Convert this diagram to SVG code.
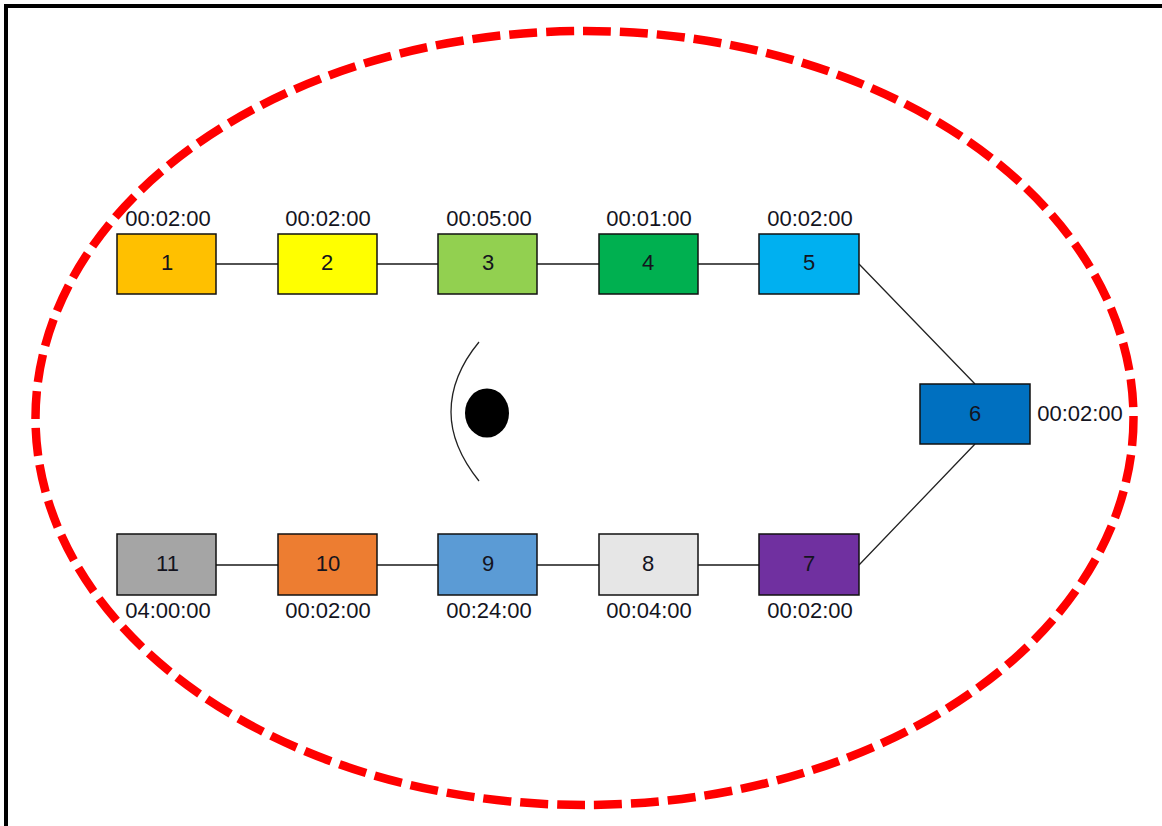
<svg xmlns="http://www.w3.org/2000/svg" width="1162" height="826" viewBox="0 0 1162 826">
<style>
.n{stroke:#111;stroke-width:1.5}
.c{stroke:#1a1a1a;stroke-width:1.5;fill:none}
.d{stroke:#222;stroke-width:1.3;fill:none}
text{font-family:"Liberation Sans",Arial,sans-serif;font-size:22px;fill:#14141e;text-anchor:middle}
</style>
<rect width="1162" height="826" fill="#fff"/>
<path d="M6 826V6H1162" fill="none" stroke="#000" stroke-width="4"/>
<ellipse id="boundary" cx="584.500" cy="418" rx="549" ry="387" fill="none" stroke="#f00" stroke-width="8.500" stroke-dasharray="28 9"/>
<g id="connectors">
<path class="c" d="M216 264H278M377 264H438M537 264H599M698 264H759M759 565H698M599 565H537M438 565H377M278 565H216"/>
<path class="d" d="M859 264L975 384M975 444L859 565M479 342Q451 376 451 412Q451 446 479 481"/>
</g>
<ellipse id="dot" cx="487" cy="413" rx="22" ry="24.500" fill="#000"/>
<g id="n1"><rect class="n" x="117" y="234" width="99" height="60" fill="#ffc000"/><text x="167" y="270">1</text><text x="168" y="226">00:02:00</text></g>
<g id="n2"><rect class="n" x="278" y="234" width="99" height="60" fill="#ff0"/><text x="327" y="270">2</text><text x="328" y="226">00:02:00</text></g>
<g id="n3"><rect class="n" x="438" y="234" width="99" height="60" fill="#92d050"/><text x="488" y="270">3</text><text x="489" y="226">00:05:00</text></g>
<g id="n4"><rect class="n" x="599" y="234" width="99" height="60" fill="#00b050"/><text x="648" y="270">4</text><text x="649" y="226">00:01:00</text></g>
<g id="n5"><rect class="n" x="759" y="234" width="100" height="60" fill="#00b0f0"/><text x="809" y="270">5</text><text x="810" y="226">00:02:00</text></g>
<g id="n6"><rect class="n" x="920" y="384" width="110" height="60" fill="#0070c0"/><text x="975" y="421">6</text><text x="1080" y="421">00:02:00</text></g>
<g id="n7"><rect class="n" x="759" y="534" width="100" height="61" fill="#7030a0"/><text x="809" y="571">7</text><text x="810" y="618">00:02:00</text></g>
<g id="n8"><rect class="n" x="599" y="534" width="99" height="61" fill="#e6e6e6"/><text x="648" y="571">8</text><text x="649" y="618">00:04:00</text></g>
<g id="n9"><rect class="n" x="438" y="534" width="99" height="61" fill="#5b9bd5"/><text x="488" y="571">9</text><text x="489" y="618">00:24:00</text></g>
<g id="n10"><rect class="n" x="278" y="534" width="99" height="61" fill="#ed7d31"/><text x="328" y="571">10</text><text x="328" y="618">00:02:00</text></g>
<g id="n11"><rect class="n" x="117" y="534" width="99" height="61" fill="#a5a5a5"/><text x="167.500" y="571">11</text><text x="168" y="618">04:00:00</text></g>
</svg>
